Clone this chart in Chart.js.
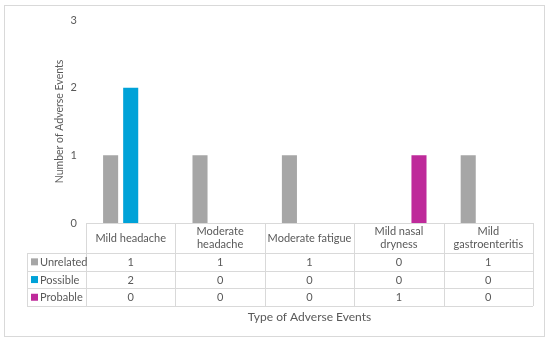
<!DOCTYPE html>
<html>
<head>
<meta charset="utf-8">
<script src="https://cdn.jsdelivr.net/npm/chart.js@4/dist/chart.umd.min.js"></script>
<style>
  html, body { margin: 0; padding: 0; background: #fff; }
  #wrap { position: relative; width: 550px; height: 342px; }
</style>
</head>
<body>
<div id="wrap"><canvas id="aeChart"></canvas></div>
<script>
// Data
const categories = [['Mild headache'], ['Moderate', 'headache'], ['Moderate fatigue'], ['Mild nasal', 'dryness'], ['Mild', 'gastroenteritis']];
const unrelated = [1, 1, 1, 0, 1];
const possible = [2, 0, 0, 0, 0];
const probable = [0, 0, 0, 1, 0];
const seriesNames = ['Unrelated', 'Possible', 'Probable'];
const yTicks = [0, 1, 2, 3];

const seriesColors = ['#a6a6a6', '#00a2d8', '#be2a9a'];
const textColor = '#595959';
const lineColor = '#d9d9d9';
const fontFamily = "'Lato', sans-serif";

// Draws the outer frame and the Excel-style data table under the bars
const dataTablePlugin = {
    id: 'dataTable',
    afterDraw(chart) {
        const ctx = chart.ctx;
        const x = chart.scales.x;
        const area = chart.chartArea;
        const n = categories.length;
        const colW = (area.right - area.left) / n;
        const headerBottom = area.bottom + 30;
        const rowH = 17.7;
        const tableBottom = headerBottom + rowH * seriesNames.length;
        const legendLeft = 27;

        ctx.save();
        // outer frame
        ctx.strokeStyle = lineColor;
        ctx.lineWidth = 1;
        ctx.strokeRect(4.5, 5.5, 540, 331);

        // table grid
        ctx.beginPath();
        ctx.moveTo(area.left, area.bottom + 0.5);
        ctx.lineTo(area.right, area.bottom + 0.5);
        for (let r = 0; r <= seriesNames.length; r++) {
            const y = Math.round(headerBottom + r * rowH) + 0.5;
            ctx.moveTo(legendLeft, y);
            ctx.lineTo(area.right, y);
        }
        for (let c = 0; c <= n; c++) {
            const xx = Math.round(area.left + c * colW) + 0.5;
            ctx.moveTo(xx, area.bottom);
            ctx.lineTo(xx, Math.round(tableBottom));
        }
        ctx.moveTo(legendLeft + 0.5, Math.round(headerBottom));
        ctx.lineTo(legendLeft + 0.5, Math.round(tableBottom));
        ctx.stroke();

        // header labels
        ctx.fillStyle = textColor;
        ctx.font = '11px ' + fontFamily;
        ctx.textAlign = 'center';
        ctx.textBaseline = 'middle';
        const headerMid = (area.bottom + headerBottom) / 2;
        categories.forEach((lines, i) => {
            const cx = x.getPixelForValue(i);
            const lh = 13;
            const y0 = headerMid - (lines.length - 1) * lh / 2;
            lines.forEach((t, k) => ctx.fillText(t, cx, y0 + k * lh));
        });

        // rows
        const series = [unrelated, possible, probable];
        series.forEach((vals, r) => {
            const cy = headerBottom + rowH * r + rowH / 2;
            ctx.fillStyle = seriesColors[r];
            ctx.fillRect(legendLeft + 4, cy - 3.5, 7, 7);
            ctx.fillStyle = textColor;
            ctx.textAlign = 'left';
            ctx.fillText(seriesNames[r], legendLeft + 13, cy + 0.5);
            ctx.textAlign = 'center';
            vals.forEach((v, i) => ctx.fillText(String(v), x.getPixelForValue(i), cy + 0.5));
        });

        // x axis title
        ctx.font = '12px ' + fontFamily;
        ctx.fillText('Type of Adverse Events', (area.left + area.right) / 2, tableBottom + 11);
        ctx.restore();
    }
};

const ctx = document.getElementById('aeChart').getContext('2d');
const aeChart = new Chart(ctx, {
    type: 'bar',
    data: {
        labels: categories,
        datasets: [
            { label: seriesNames[0], data: unrelated, backgroundColor: seriesColors[0] },
            { label: seriesNames[1], data: possible, backgroundColor: seriesColors[1] },
            { label: seriesNames[2], data: probable, backgroundColor: seriesColors[2] }
        ]
    },
    options: {
        responsive: true,
        maintainAspectRatio: false,
        animation: false,
        categoryPercentage: 0.674,
        barPercentage: 0.75,
        layout: {
            padding: { left: 53, right: 17, top: 20, bottom: 119 }
        },
        plugins: {
            legend: { display: false },
            tooltip: { enabled: false }
        },
        scales: {
            x: {
                display: false
            },
            y: {
                min: 0,
                max: 3,
                afterBuildTicks: (scale) => {
                    scale.ticks = yTicks.map(v => ({ value: v }));
                },
                afterFit: (scale) => {
                    scale.width = 33;
                },
                grid: { display: false, drawTicks: false },
                border: { display: false },
                ticks: {
                    color: textColor,
                    font: { family: fontFamily, size: 11 },
                    padding: 9
                },
                title: {
                    display: true,
                    text: 'Number of Adverse Events',
                    color: textColor,
                    font: { family: fontFamily, size: 10.5 },
                    padding: { top: 0, bottom: 0 }
                }
            }
        }
    },
    plugins: [dataTablePlugin]
});
</script>
</body>
</html>
